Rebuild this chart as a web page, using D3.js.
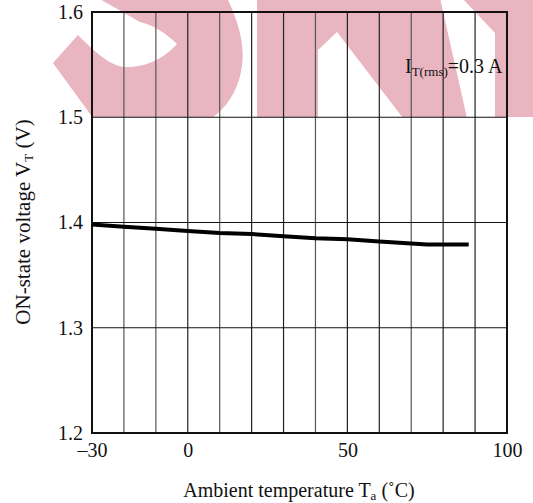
<!DOCTYPE html>
<html>
<head>
<meta charset="utf-8">
<script src="https://cdn.jsdelivr.net/npm/d3@7"></script>
<style>
  body { margin: 0; background: #fff; }
  text { font-family: "Liberation Serif", "Times New Roman", serif; fill: #111; }
</style>
</head>
<body>
<div id="chart"></div>
<script>
// chart values
const temps = [-30, -20, -10, 0, 10, 20, 30, 40, 50, 60, 70, 75, 88];
const vOn = [1.398, 1.396, 1.394, 1.392, 1.390, 1.389, 1.387, 1.385, 1.384, 1.382, 1.380, 1.379, 1.379];
const xTicks = [-30, 0, 50, 100];
const xGrid = [-20, -10, 0, 10, 20, 30, 40, 50, 60, 70, 80, 90];
const yTicks = [1.2, 1.3, 1.4, 1.5, 1.6];

// set the dimensions and margins of the graph
const margin = {top: 12, right: 26, bottom: 70, left: 92},
    width = 533 - margin.left - margin.right,
    height = 503 - margin.top - margin.bottom;

const root = d3.select("#chart")
  .append("svg")
    .attr("width", 533)
    .attr("height", 503);

// pink watermark letters behind the grid (clipped at the 1.5 line)
root.append("clipPath").attr("id", "wm")
  .append("rect").attr("x", 0).attr("y", 0).attr("width", 533).attr("height", 117);
const wm = root.append("g").attr("clip-path", "url(#wm)").attr("fill", "#e9b5c0");
// S
wm.append("path").attr("d",
  "M98,-2 L227,-2 C238,20 245,45 242,65 C240,85 230,105 212,118 L93,118 L53,63 L78,35 " +
  "C95,52 110,66 125,67 C145,68 165,58 177,44 C165,32 152,25 140,22 Z");
// K
wm.append("path").attr("d", "M257,-2 L318,-2 L318,118 L257,118 Z");
wm.append("path").attr("d", "M318,-2 L440,-2 L467,118 L403,118 L337,32 L318,50 Z");
// Y
wm.append("path").attr("d", "M462,-2 L540,-2 L540,118 L495,118 L495,33 Z");

const svg = root.append("g")
    .attr("transform", `translate(${margin.left},${margin.top})`);

const x = d3.scaleLinear().domain([-30, 100]).range([0, width]);
const y = d3.scaleLinear().domain([1.2, 1.6]).range([height, 0]);

// grid
svg.selectAll("vgrid")
  .data(xGrid)
  .join("line")
    .attr("x1", d => x(d)).attr("x2", d => x(d))
    .attr("y1", 0).attr("y2", height)
    .attr("stroke", (d, i) => (d % 30 === 0 || d === 50 || d === 20 || d === 80) ? "#222" : "#555")
    .attr("stroke-width", 1.2);
svg.selectAll("hgrid")
  .data(yTicks.slice(1, -1))
  .join("line")
    .attr("x1", 0).attr("x2", width)
    .attr("y1", d => y(d)).attr("y2", d => y(d))
    .attr("stroke", "#111")
    .attr("stroke-width", 1.2);

// frame
svg.append("rect")
  .attr("width", width).attr("height", height)
  .attr("fill", "none").attr("stroke", "#111").attr("stroke-width", 2);

// X axis
const xAxis = svg.append("g")
  .attr("transform", `translate(0, ${height})`)
  .call(d3.axisBottom(x).tickValues(xTicks).tickSize(0).tickPadding(10)
    .tickFormat(d => d < 0 ? "\u2013" + Math.abs(d) : d));
xAxis.select(".domain").remove();
xAxis.selectAll("text").attr("font-size", "20px").attr("font-family", "Liberation Serif").attr("fill", "#111");

// Y axis
const yAxis = svg.append("g")
  .call(d3.axisLeft(y).tickValues(yTicks).tickSize(0).tickPadding(9).tickFormat(d3.format(".1f")));
yAxis.select(".domain").remove();
yAxis.selectAll("text").attr("font-size", "20px").attr("font-family", "Liberation Serif").attr("fill", "#111");

// curve
const line = d3.line().x((d, i) => x(temps[i])).y(d => y(d));
svg.append("path")
  .datum(vOn)
  .attr("d", line)
  .attr("fill", "none")
  .attr("stroke", "#000")
  .attr("stroke-width", 4);

// annotation
const ann = root.append("text")
  .attr("x", 405)
  .attr("y", 73)
  .attr("font-size", "20px");
ann.append("tspan").text("I");
ann.append("tspan").attr("font-size", "13px").attr("dy", 3).text("T(rms)");
ann.append("tspan").attr("dy", -3).text("=0.3\u2009A");

// axis labels
const xl = root.append("text")
  .attr("text-anchor", "middle")
  .attr("x", 299)
  .attr("y", 497)
  .attr("font-size", "20px");
xl.append("tspan").text("Ambient temperature T");
xl.append("tspan").attr("font-size", "13px").attr("dy", 3).text("a");
xl.append("tspan").attr("dy", -3).text(" (\u02daC)");

const yl = root.append("text")
  .attr("text-anchor", "middle")
  .attr("transform", "translate(30,222) rotate(-90)")
  .attr("font-size", "21px");
yl.append("tspan").text("ON-state voltage V");
yl.append("tspan").attr("font-size", "13px").attr("dy", 3).text("T");
yl.append("tspan").attr("dy", -3).text(" (V)");
</script>
</body>
</html>
